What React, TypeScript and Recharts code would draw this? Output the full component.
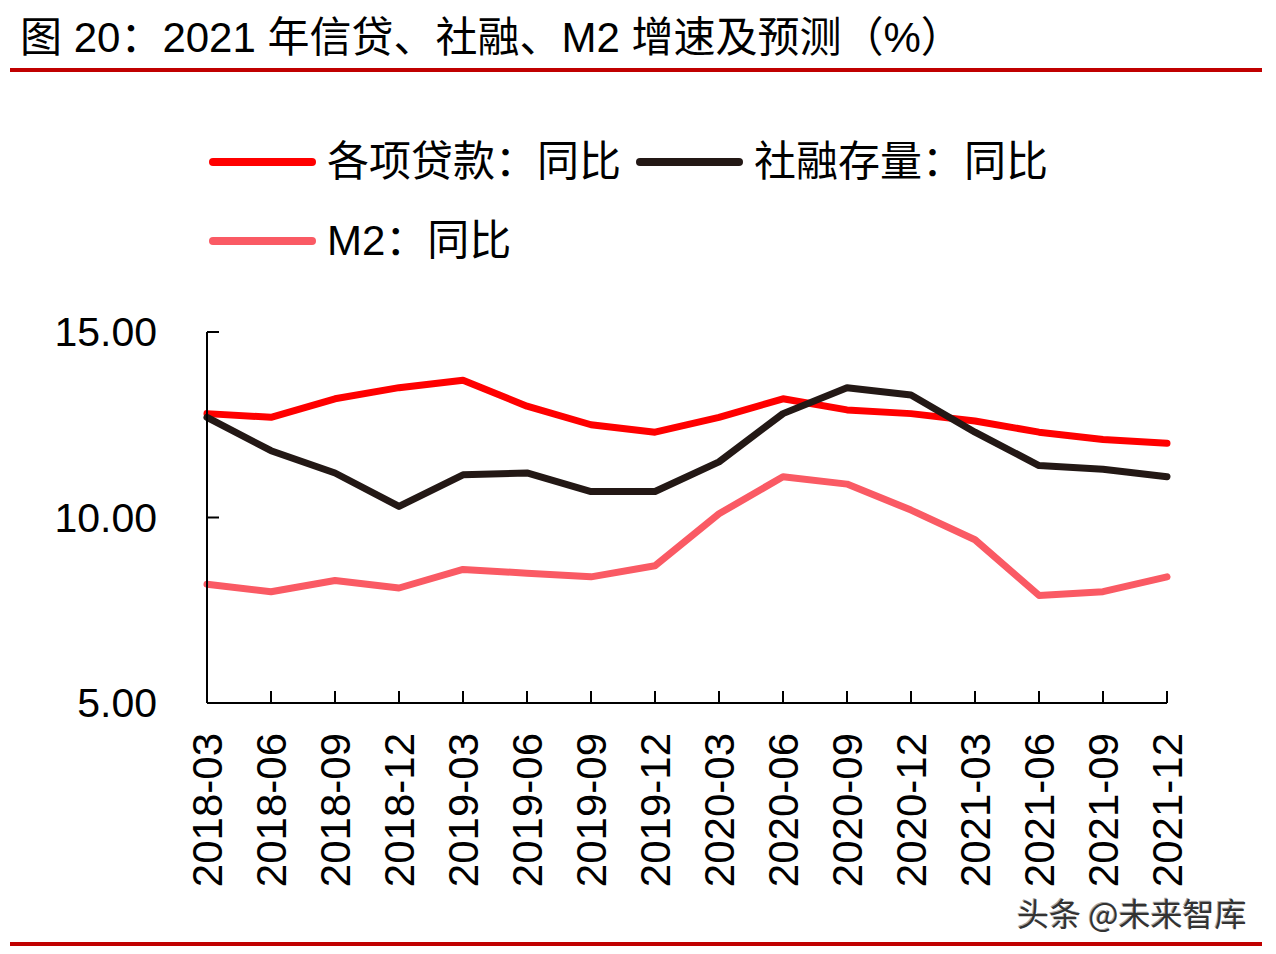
import React from "react";
import { LineChart, Line, XAxis, YAxis } from "recharts";

// quarterly points, 2021 values are forecasts
const months = [
  "2018-03", "2018-06", "2018-09", "2018-12",
  "2019-03", "2019-06", "2019-09", "2019-12",
  "2020-03", "2020-06", "2020-09", "2020-12",
  "2021-03", "2021-06", "2021-09", "2021-12",
];
const loans = [12.8, 12.7, 13.2, 13.5, 13.7, 13.0, 12.5, 12.3, 12.7, 13.2, 12.9, 12.8, 12.6, 12.3, 12.1, 12.0];
const socialFinancing = [12.7, 11.8, 11.2, 10.3, 11.15, 11.2, 10.7, 10.7, 11.5, 12.8, 13.5, 13.3, 12.3, 11.4, 11.3, 11.1];
const m2 = [8.2, 8.0, 8.3, 8.1, 8.6, 8.5, 8.4, 8.7, 10.1, 11.1, 10.9, 10.2, 9.4, 7.9, 8.0, 8.4];
const yTicks = [5, 10, 15];

const RED = "#FF0000";
const BLACK = "#231815";
const PINK = "#FA5A64";
const RULE = "#C00000";

const LATIN = "'Liberation Sans', Arial, sans-serif";
const CJK = "'Liberation Sans', 'Noto Sans CJK SC', sans-serif";

const series = [
  { key: "loans", name: "各项贷款：同比", color: RED },
  { key: "tsf", name: "社融存量：同比", color: BLACK },
  { key: "m2", name: "M2：同比", color: PINK },
];

const data = months.map((month, i) => ({
  month,
  loans: loans[i],
  tsf: socialFinancing[i],
  m2: m2[i],
}));

const XTick = (props: any) => {
  const { x, y, payload } = props;
  const ty = y + 30;
  return (
    <g>
      <line x1={x} y1={y} x2={x} y2={y - 12} stroke="#000" strokeWidth={2} />
      <text
        x={x}
        y={ty}
        transform={`rotate(-90, ${x}, ${ty})`}
        textAnchor="end"
        dominantBaseline="central"
        fontFamily={LATIN}
        fontSize={42}
        fill="#000"
      >
        {payload.value}
      </text>
    </g>
  );
};

const YTick = (props: any) => {
  const { x, y, payload } = props;
  return (
    <g>
      <line x1={x} y1={y} x2={x + 12} y2={y} stroke="#000" strokeWidth={2} />
      <text
        x={x - 50}
        y={y}
        textAnchor="end"
        dominantBaseline="central"
        fontFamily={LATIN}
        fontSize={41}
        fill="#000"
      >
        {Number(payload.value).toFixed(2)}
      </text>
    </g>
  );
};

const Swatch = ({ left, top, color }: { left: number; top: number; color: string }) => (
  <div
    style={{
      position: "absolute",
      left,
      top: top - 4,
      width: 107,
      height: 8,
      borderRadius: 4,
      background: color,
    }}
  />
);

const LegendLabel = ({ left, top, text }: { left: number; top: number; text: string }) => (
  <div
    style={{
      position: "absolute",
      left,
      top: top - 25,
      height: 50,
      lineHeight: "50px",
      fontSize: 42,
      fontFamily: CJK,
      color: "#000",
      whiteSpace: "nowrap",
    }}
  >
    {text}
  </div>
);

export default function App() {
  return (
    <div
      style={{
        position: "absolute",
        left: 0,
        top: 0,
        width: 1276,
        height: 954,
        background: "#fff",
        overflow: "hidden",
      }}
    >
      <div
        style={{
          position: "absolute",
          left: 20,
          top: 12,
          height: 52,
          lineHeight: "52px",
          fontSize: 42,
          fontFamily: CJK,
          color: "#000",
          whiteSpace: "nowrap",
        }}
      >
        图 20：2021 年信贷、社融、M2 增速及预测（%）
      </div>
      <div style={{ position: "absolute", left: 10, top: 68, width: 1252, height: 4, background: RULE }} />

      <Swatch left={209} top={162} color={series[0].color} />
      <LegendLabel left={327} top={162} text={series[0].name} />
      <Swatch left={636} top={162} color={series[1].color} />
      <LegendLabel left={754} top={162} text={series[1].name} />
      <Swatch left={209} top={241} color={series[2].color} />
      <LegendLabel left={327} top={241} text={series[2].name} />

      <div style={{ position: "absolute", left: 0, top: 0 }}>
        <LineChart width={1276} height={954} data={data} margin={{ top: 332, right: 109, left: 57, bottom: 51 }}>
          <XAxis
            dataKey="month"
            scale="point"
            padding={{ left: 0, right: 0 }}
            height={200}
            interval={0}
            tickLine={false}
            tickSize={0}
            tickMargin={0}
            axisLine={{ stroke: "#000", strokeWidth: 2 }}
            tick={XTick}
          />
          <YAxis
            width={150}
            domain={[5, 15]}
            ticks={yTicks}
            interval={0}
            tickLine={false}
            tickSize={0}
            tickMargin={0}
            axisLine={{ stroke: "#000", strokeWidth: 2 }}
            tick={YTick}
          />
          {series.map((s) => (
            <Line
              key={s.key}
              dataKey={s.key}
              name={s.name}
              type="linear"
              stroke={s.color}
              strokeWidth={7}
              strokeLinecap="round"
              strokeLinejoin="round"
              dot={false}
              activeDot={false}
              isAnimationActive={false}
            />
          ))}
        </LineChart>
      </div>

      <div
        style={{
          position: "absolute",
          left: 1017,
          top: 892,
          height: 40,
          lineHeight: "40px",
          fontSize: 32,
          fontFamily: "'Noto Sans CJK SC', sans-serif",
          color: "#333",
          textShadow: "1px 1px 0 #fff, -1px -1px 0 #aaa",
          whiteSpace: "nowrap",
        }}
      >
        头条 @未来智库
      </div>
      <div style={{ position: "absolute", left: 10, top: 942, width: 1252, height: 4, background: RULE }} />
    </div>
  );
}
